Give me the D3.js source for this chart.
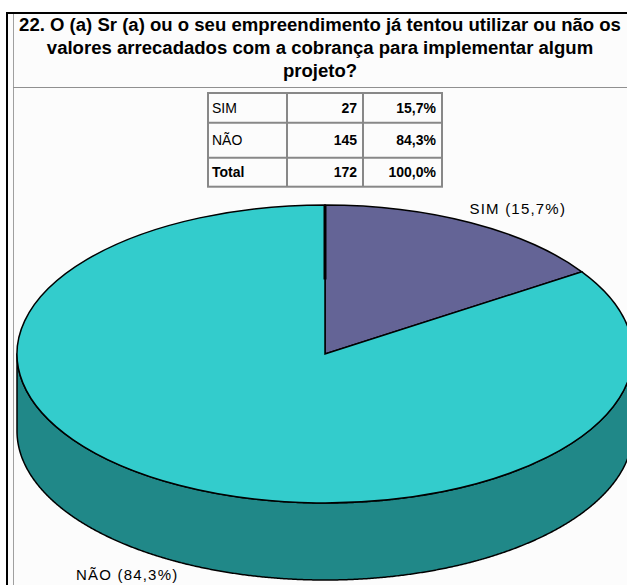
<!DOCTYPE html>
<html>
<head>
<meta charset="utf-8">
<script src="https://cdn.jsdelivr.net/npm/d3@7"></script>
<style>
  html, body { margin: 0; padding: 0; background: #ffffff; }
  svg { display: block; }
</style>
</head>
<body>
<svg id="chart" width="627" height="585"></svg>
<script>
// Survey answers: question 22
const titleLines = [
  "22. O (a) Sr (a) ou o seu empreendimento já tentou utilizar ou não os",
  "valores arrecadados com a cobrança para implementar algum",
  "projeto?"
];
const categories = ["SIM", "NÃO"];
const counts = [27, 145];
const percentLabels = ["15,7%", "84,3%"];
const totalLabel = "Total";
const totalCount = 172;
const totalPercent = "100,0%";

const colors = ["#646496", "#33cccc"];
const sideColor = "#208888";

const svg = d3.select("#chart");
const W = 627, H = 585;
const font = "'Liberation Sans', Arial, sans-serif";

// Frame
svg.append("rect").attr("x", 0).attr("y", 0).attr("width", W).attr("height", H).attr("fill", "#ffffff");
svg.append("rect").attr("x", 7).attr("y", 13).attr("width", 640).attr("height", 600)
  .attr("fill", "#fcfcfc").attr("stroke", "#000").attr("stroke-width", 2);
svg.append("line").attr("x1", 13.5).attr("x2", 13.5).attr("y1", 14).attr("y2", H)
  .attr("stroke", "#a0a0a0").attr("stroke-width", 1);
svg.append("line").attr("x1", 13).attr("x2", W).attr("y1", 87.5).attr("y2", 87.5)
  .attr("stroke", "#909090").attr("stroke-width", 1);

// Title: size chosen so the first line spans the header width
const title = svg.append("g").selectAll("text").data(titleLines).join("text")
  .attr("x", 320)
  .attr("y", (d, i) => 31 + i * 23)
  .attr("text-anchor", "middle")
  .attr("font-family", font)
  .attr("font-weight", "bold")
  .attr("font-size", 18)
  .attr("fill", "#000")
  .text(d => d);
const firstWidth = title.node().getComputedTextLength();
title.attr("font-size", 18 * 602 / firstWidth);

// Summary table
const rows = categories.map((c, i) => ({ label: c, count: counts[i], pct: percentLabels[i], bold: false }))
  .concat([{ label: totalLabel, count: totalCount, pct: totalPercent, bold: true }]);
const colX = [208, 287, 363, 442];
const rowY = [93, 122.7, 157.7, 186.7];
const table = svg.append("g");
table.append("rect").attr("x", colX[0]).attr("y", rowY[0])
  .attr("width", colX[3] - colX[0]).attr("height", rowY[3] - rowY[0])
  .attr("fill", "#fcfcfc").attr("stroke", "#888").attr("stroke-width", 2);
rowY.slice(1, 3).forEach(y => table.append("line").attr("x1", colX[0]).attr("x2", colX[3])
  .attr("y1", y).attr("y2", y).attr("stroke", "#888").attr("stroke-width", 2));
colX.slice(1, 3).forEach(x => table.append("line").attr("x1", x).attr("x2", x)
  .attr("y1", rowY[0]).attr("y2", rowY[3]).attr("stroke", "#888").attr("stroke-width", 2));
rows.forEach((r, i) => {
  const yb = (rowY[i] + rowY[i + 1]) / 2 + 5;
  table.append("text").attr("x", colX[0] + 4).attr("y", yb)
    .attr("font-family", font).attr("font-size", 14)
    .attr("font-weight", r.bold ? "bold" : "normal").text(r.label);
  table.append("text").attr("x", colX[2] - 6).attr("y", yb).attr("text-anchor", "end")
    .attr("font-family", font).attr("font-size", 14)
    .attr("font-weight", "bold").text(r.count);
  table.append("text").attr("x", colX[3] - 6).attr("y", yb).attr("text-anchor", "end")
    .attr("font-family", font).attr("font-size", 14)
    .attr("font-weight", "bold").text(r.pct);
});

// 3D pie
const cx = 325, cy = 354, rx = 308, ry = 149, depth = 77;
const pie = d3.pie().sort(null).value(d => d)(counts);
const pt = (a, dy = 0) => [cx + rx * Math.sin(a), cy - ry * Math.cos(a) + dy];

const pieG = svg.append("g");

// Side wall of the visible front half (belongs to the NÃO slice)
const a0 = Math.max(Math.PI / 2, pie[1].startAngle), a1 = Math.min(3 * Math.PI / 2, pie[1].endAngle);
const angs = d3.range(a0, a1, 0.005).concat([a1]);
const topEdge = angs.map(a => pt(a));
const botEdge = angs.slice().reverse().map(a => pt(a, depth));
pieG.append("path")
  .attr("d", d3.line()(topEdge.concat(botEdge)) + "Z")
  .attr("fill", sideColor).attr("stroke", "#000").attr("stroke-width", 1.5).attr("stroke-linejoin", "round");

// Top faces: unit arcs squashed into an ellipse
const arc = d3.arc().innerRadius(0).outerRadius(rx);
pieG.selectAll("path.slice").data(pie).join("path")
  .attr("class", "slice")
  .attr("transform", `translate(${cx},${cy}) scale(1,${ry / rx})`)
  .attr("d", arc)
  .attr("fill", (d, i) => colors[i])
  .attr("stroke", "#000").attr("stroke-width", 1.5)
  .attr("vector-effect", "non-scaling-stroke");

// Heavier rim on the upper part of the slice boundary at 12 o'clock
const topPt = pt(pie[0].startAngle);
pieG.append("line").attr("x1", topPt[0]).attr("x2", topPt[0])
  .attr("y1", topPt[1]).attr("y2", cy - ry * 0.5)
  .attr("stroke", "#000").attr("stroke-width", 3);

// Slice labels
const labelOffsets = [[47, -9], [-52, 95]];
pie.forEach((d, i) => {
  const mid = (d.startAngle + d.endAngle) / 2;
  const p = pt(mid);
  svg.append("text")
    .attr("x", p[0] + labelOffsets[i][0]).attr("y", p[1] + labelOffsets[i][1])
    .attr("text-anchor", "middle")
    .attr("font-family", font).attr("font-size", 15)
    .attr("letter-spacing", 1.2)
    .attr("fill", "#000")
    .text(`${categories[i]} (${percentLabels[i]})`);
});
</script>
</body>
</html>
